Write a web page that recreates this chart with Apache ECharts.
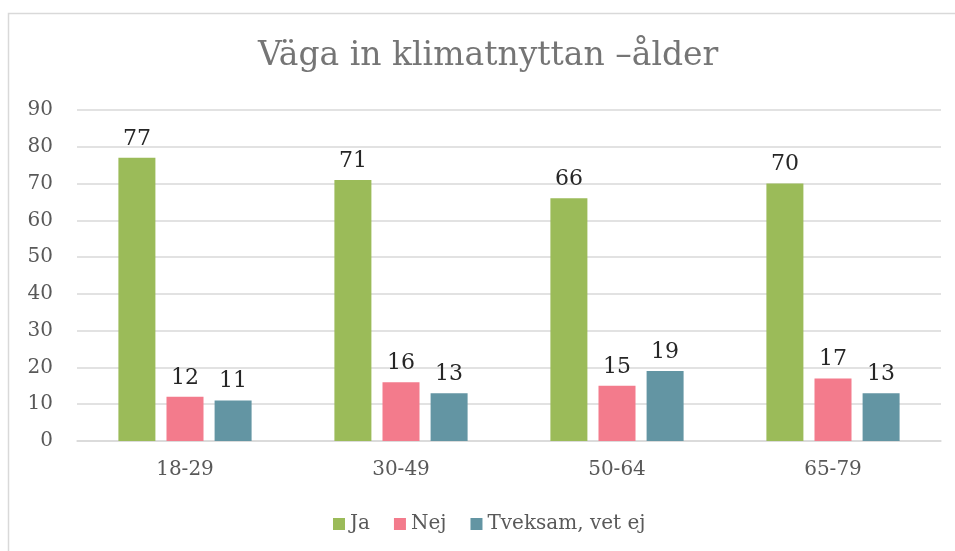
<!DOCTYPE html>
<html>
<head>
<meta charset="utf-8">
<script src="https://cdn.jsdelivr.net/npm/echarts@6/dist/echarts.min.js"></script>
<style>
  html, body { margin: 0; padding: 0; background: #fff; }
  #chart { width: 955px; height: 551px; }
</style>
</head>
<body>
<div id="chart"></div>
<script>
// data
var categories = ['18-29', '30-49', '50-64', '65-79'];
var ja = [77, 71, 66, 70];
var nej = [12, 16, 15, 17];
var tveksam = [11, 13, 19, 13];
var seriesNames = ['Ja', 'Nej', 'Tveksam, vet ej'];

var FONT = 'DejaVu Serif';

function barSeries(name, data, color) {
	return {
		name: name,
		type: 'bar',
		data: data,
		barWidth: 37,
		barGap: '30%',
		itemStyle: { color: color },
		label: {
			show: true,
			position: 'top',
			distance: 8,
			color: '#262626',
			fontFamily: FONT,
			fontSize: 22
		}
	};
}

var myChart = echarts.init(document.getElementById('chart'));

var option = {
	animation: false,
	backgroundColor: '#fff',
	graphic: [{ // chart frame
		type: 'rect',
		shape: { x: 8.5, y: 13.5, width: 1000, height: 600 },
		style: { fill: 'none', stroke: '#d9d9d9', lineWidth: 1.5 },
		silent: true
	}],
	title: {
		text: 'Väga in klimatnyttan –ålder',
		left: 258, // frame runs past the window, so the title sits right of centre
		top: 40,
		padding: 0,
		textStyle: {
			color: '#757575',
			fontFamily: FONT,
			fontWeight: 'normal',
			fontSize: 33
		}
	},
	legend: {
		data: seriesNames,
		bottom: 17,
		left: 333,
		padding: 0,
		itemWidth: 12,
		itemHeight: 12,
		itemGap: 24,
		icon: 'rect',
		textStyle: { color: '#595959', fontFamily: FONT, fontSize: 20 }
	},
	grid: { left: 77, right: 14, top: 110, bottom: 110, containLabel: false },
	xAxis: {
		type: 'category',
		data: categories,
		axisLine: { show: true, lineStyle: { color: '#d9d9d9', width: 1.5 } },
		axisTick: { show: false },
		axisLabel: { color: '#595959', fontFamily: FONT, fontSize: 20, margin: 19 }
	},
	yAxis: {
		type: 'value',
		min: 0,
		max: 90,
		interval: 10,
		axisLine: { show: false },
		axisTick: { show: false },
		splitLine: { lineStyle: { color: '#d9d9d9', width: 1.5 } },
		axisLabel: { color: '#595959', fontFamily: FONT, fontSize: 20, margin: 24 }
	},
	series: [
		barSeries(seriesNames[0], ja, '#9BBB59'),
		barSeries(seriesNames[1], nej, '#F37B8C'),
		barSeries(seriesNames[2], tveksam, '#6395A3')
	]
};

myChart.setOption(option);
</script>
</body>
</html>
